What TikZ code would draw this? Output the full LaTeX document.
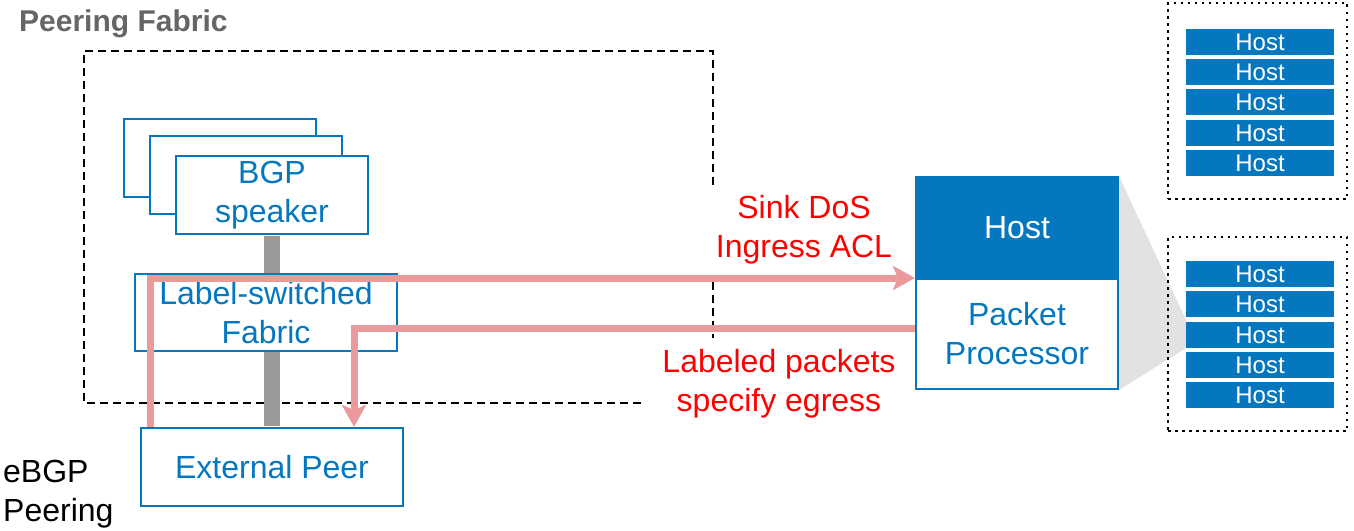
\documentclass[tikz,border=0pt]{standalone}
\usepackage{fontspec}
\setmainfont{Liberation Sans}
\usetikzlibrary{arrows.meta}
\definecolor{netblue}{RGB}{4,119,191}
\definecolor{flowpink}{RGB}{234,154,154}
\definecolor{zoomgray}{RGB}{226,226,226}
\definecolor{bargray}{RGB}{153,153,153}
\definecolor{titlegray}{RGB}{102,102,102}
\definecolor{notered}{RGB}{255,0,0}
\begin{document}
\begin{tikzpicture}[x=1pt,y=-1pt,
  bigfont/.style={font=\fontsize{32}{39}\selectfont},
  box/.style={draw=netblue, line width=2pt, fill=white, text=netblue,
    align=center, inner sep=0pt, bigfont},
  speakerbox/.style={box, minimum width=192pt, minimum height=78pt},
  widebox/.style={box, minimum width=262pt, minimum height=77pt},
  hostbar/.style={fill=netblue, text=white, minimum width=148pt,
    minimum height=26pt, inner sep=0pt, font=\fontsize{24}{24}\selectfont},
  group/.style={draw, line width=2.5pt, dash pattern=on 2.5pt off 4.5pt,
    minimum width=179pt},
  fabricline/.style={line width=2pt, dash pattern=on 8pt off 5pt},
  flow/.style={draw=flowpink, line width=7pt,
    -{Stealth[length=22pt,width=24pt,inset=5pt]}},
  note/.style={text=notered, align=center, inner sep=0pt, bigfont},
]
\useasboundingbox (0,0) rectangle (1354,530);

% title
\node[anchor=base west, inner sep=0pt, text=titlegray,
  font=\bfseries\fontsize{30}{36}\selectfont] (title) at (19,31) {Peering Fabric};

% peering fabric outline, left open where the annotations sit
\draw[fabricline] (713,185) -- (713,51) -- (84,51) -- (84,403) -- (642,403);
\draw[fabricline] (713,282) -- (713,338);

% stacked BGP speakers
\node[speakerbox] (bgpC) at (220,158) {};
\node[speakerbox] (bgpB) at (246,175) {};
\node[speakerbox] (bgp) at (272,195) {BGP\\speaker};

% external peer
\node[widebox, minimum height=78pt] (peer) at (272,467) {External Peer};

% backbone link
\draw[bargray, line width=16pt, shorten <=1pt, shorten >=1pt] (bgp.south) -- (peer.north);

% label-switched fabric
\node[widebox] (lsf) at (266,312.5) {Label-switched\\Fabric};

% eBGP label
\node[anchor=west, align=left, inner sep=0pt, bigfont] (ebgp) at (3,494) {eBGP\\Peering};

% host with packet processor
\node[box, fill=netblue, text=white, minimum width=202pt, minimum height=102pt] (host) at (1017,228) {Host};
\node[box, minimum width=202pt, minimum height=110pt] (pp) at (1017,334) {Packet\\Processor};

% zoom wedge
\fill[zoomgray] (host.north east) -- (1186,320) -- (1186,348) -- (pp.south east) -- cycle;

% host groups
\node[group, minimum height=196pt] (grpA) at (1257.5,101) {};
\node[group, minimum height=194pt] (grpB) at (1257.5,334) {};
\foreach \y [count=\i] in {42,72,102,133,163}
  \node[hostbar] (ha\i) at (1260,\y) {Host};
\foreach \y [count=\i] in {274,304,335,365,395}
  \node[hostbar] (hb\i) at (1260,\y) {Host};

% packet flows
\draw[flow] ([xshift=10pt]peer.north west) |- ([yshift=2pt]host.south west);
\draw[flow] ([yshift=6pt]pp.west) -| ([xshift=82pt]peer.north);

% annotations
\node[note] (ingress) at (804,230) {Sink DoS\\Ingress ACL};
\node[note] (egress) at (779,384) {Labeled packets\\specify egress};
\end{tikzpicture}
\end{document}
